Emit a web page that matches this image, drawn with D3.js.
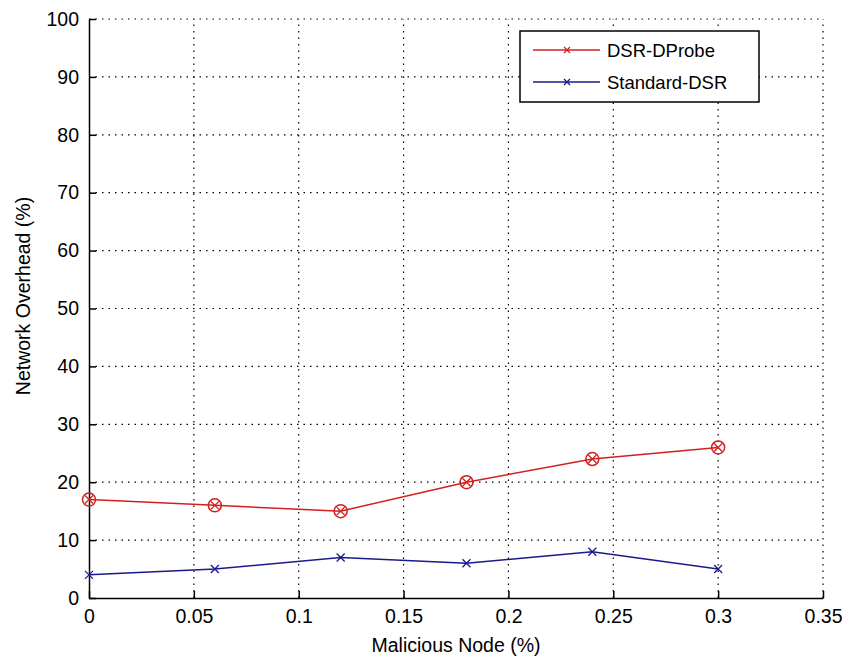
<!DOCTYPE html>
<html><head><meta charset="utf-8">
<script src="https://cdn.jsdelivr.net/npm/d3@7"></script>
<style>body{margin:0;background:#fff}svg{display:block}text{font-family:"Liberation Sans",Arial,sans-serif;fill:#000}</style>
</head><body><svg id="c" width="846" height="661"></svg>
<script>
const xValues = [0, 0.06, 0.12, 0.18, 0.24, 0.30];
const dprobe = [17, 16, 15, 20, 24, 26];
const standard = [4, 5, 7, 6, 8, 5];
const xTicks = [0, 0.05, 0.1, 0.15, 0.2, 0.25, 0.3, 0.35];
const xTickLabels = ["0", "0.05", "0.1", "0.15", "0.2", "0.25", "0.3", "0.35"];
const yTicks = [0, 10, 20, 30, 40, 50, 60, 70, 80, 90, 100];
const seriesNames = ["DSR-DProbe", "Standard-DSR"];
const seriesColors = ["#d22020", "#1a1a8c"];

const svg = d3.select("#c");
const L = 89, R = 823, T = 19, B = 598;
const x = d3.scaleLinear().domain([0, 0.35]).range([L, R]);
const y = d3.scaleLinear().domain([0, 100]).range([B, T]);

// grid
const g = svg.append("g");
g.selectAll(".gx").data(xTicks.slice(1)).enter().append("line")
  .attr("x1", d => x(d)).attr("x2", d => x(d)).attr("y1", B).attr("y2", T)
  .attr("stroke", "#000").attr("stroke-width", 1.2).attr("stroke-dasharray", "1.5,5");
g.selectAll(".gy").data(yTicks.slice(1)).enter().append("line")
  .attr("x1", L).attr("x2", R).attr("y1", d => y(d)).attr("y2", d => y(d))
  .attr("stroke", "#000").attr("stroke-width", 1.2).attr("stroke-dasharray", "1.5,5");

// axes
const xAxis = d3.axisBottom(x).tickValues(xTicks).tickFormat((d, i) => xTickLabels[i]).tickSizeInner(-7).tickSizeOuter(0).tickPadding(11);
const yAxis = d3.axisLeft(y).tickValues(yTicks).tickSizeInner(-7).tickSizeOuter(0).tickPadding(10);
const gx = svg.append("g").attr("transform", `translate(0,${B})`).call(xAxis);
const gy = svg.append("g").attr("transform", `translate(${L},0)`).call(yAxis);
[gx, gy].forEach(a => {
  a.select(".domain").attr("stroke", "#000").attr("stroke-width", 1.5);
  a.selectAll(".tick line").attr("stroke", "#000").attr("stroke-width", 1.5);
  a.selectAll("text").attr("font-size", 19.5).attr("font-family", "Liberation Sans, Arial, sans-serif").attr("fill", "#222");
});

// axis titles
svg.append("text").attr("x", (L + R) / 2).attr("y", 652).attr("text-anchor", "middle").attr("font-size", 19.5).attr("fill", "#222").text("Malicious Node (%)");
svg.append("text").attr("transform", `translate(30,296) rotate(-90)`).attr("text-anchor", "middle").attr("font-size", 19.5).attr("fill", "#222").text("Network Overhead (%)");

// lines
const line = d3.line().x((d, i) => x(xValues[i])).y(d => y(d));
function xMark(sel, cx, cy, s, color) {
  sel.append("path").attr("d", `M${cx - s},${cy - s}L${cx + s},${cy + s}M${cx - s},${cy + s}L${cx + s},${cy - s}`)
    .attr("stroke", color).attr("stroke-width", 1.3).attr("fill", "none");
}
[dprobe, standard].forEach((data, k) => {
  svg.append("path").datum(data).attr("d", line).attr("fill", "none").attr("stroke", seriesColors[k]).attr("stroke-width", 1.5);
  const mg = svg.append("g");
  data.forEach((v, i) => {
    const cx = x(xValues[i]), cy = y(v);
    if (k === 0) {
      mg.append("circle").attr("cx", cx).attr("cy", cy).attr("r", 6.5).attr("fill", "none").attr("stroke", seriesColors[k]).attr("stroke-width", 1.5);
    }
    xMark(mg, cx, cy, 4, seriesColors[k]);
  });
});

// legend
const lg = svg.append("g");
lg.append("rect").attr("x", 520).attr("y", 31).attr("width", 239).attr("height", 71).attr("fill", "#fff").attr("stroke", "#000").attr("stroke-width", 1.5);
seriesNames.forEach((n, i) => {
  const ly = 50 + i * 32;
  lg.append("line").attr("x1", 533).attr("x2", 600).attr("y1", ly).attr("y2", ly).attr("stroke", seriesColors[i]).attr("stroke-width", 1.5);
  xMark(lg, 567, ly, 3, seriesColors[i]);
  lg.append("text").attr("x", 607).attr("y", ly + 7).attr("font-size", 18.5).attr("fill", "#222").text(n);
});
</script></body></html>
